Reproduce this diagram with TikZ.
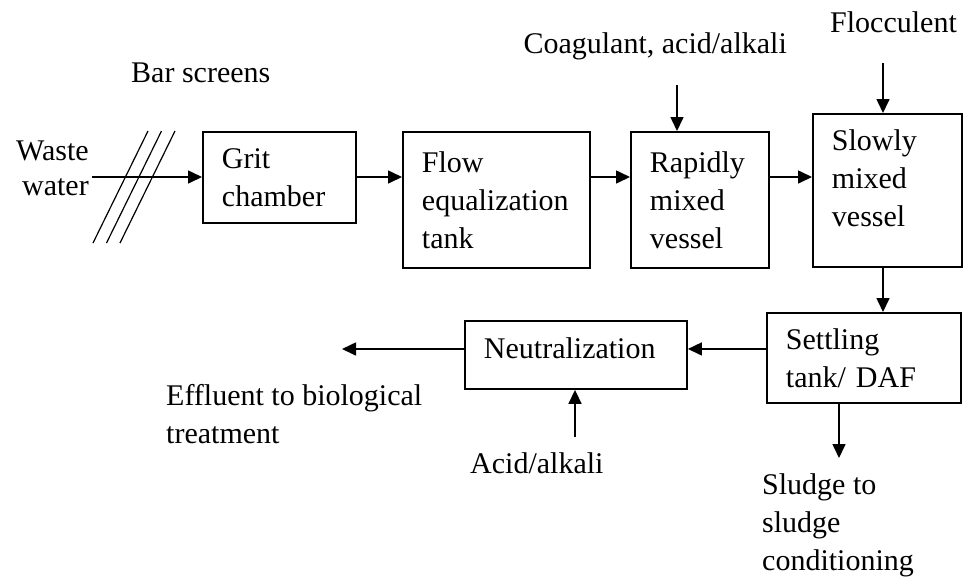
\documentclass[tikz,border=0pt]{standalone}
\usepackage{fontspec}
\setmainfont{Liberation Serif}
\usetikzlibrary{arrows.meta}

\tikzset{
  unit/.style={draw, line width=1.9pt, anchor=north west, align=left,
    inner xsep=19pt, inner ysep=0pt},
  note/.style={inner sep=0pt},
  feed/.style={->, line width=1.6pt},
}

\begin{document}
\begin{tikzpicture}[x=1pt, y=-1pt, >={Triangle[length=14pt, width=13pt]},
  font=\fontsize{30}{38}\selectfont]
  \useasboundingbox (0,0) rectangle (963,582);
  % process units
  \node (grit) at (202,131) [unit, text width=115pt, minimum height=91pt] {Grit\\chamber};
  \node (flow) at (402,131) [unit, text width=149pt, minimum height=136pt] {Flow\\equalization\\tank};
  \node (rapid) at (630,131) [unit, text width=100pt, minimum height=136pt] {Rapidly\\mixed\\vessel};
  \node (slow) at (812,113) [unit, text width=111pt, minimum height=153pt, text depth=100pt] {Slowly\\mixed\\vessel};
  \node (settle) at (766,312) [unit, text width=156pt, minimum height=90pt] {Settling\\tank/ DAF};
  \node (neut) at (464,320) [unit, text width=184pt, minimum height=68pt, text depth=14pt] {Neutralization};
  % streams
  \node (waste) at (89,195) [note, anchor=base east, align=right, font=\fontsize{30}{35}\selectfont] {Waste\\water};
  \node (bar) at (131,82) [note, anchor=base west] {Bar screens};
  \node (coag) at (787,53) [note, anchor=base east] {Coagulant, acid/alkali};
  \node (floc) at (830,32) [note, anchor=base west] {Flocculent};
  \node (acid) at (470,473) [note, anchor=base west] {Acid/alkali};
  \node (effl) at (166,443) [note, anchor=base west, align=left] {Effluent to biological\\treatment};
  \node (sludge) at (762,570) [note, anchor=base west, align=left] {Sludge to\\sludge\\conditioning};
  \coordinate (win) at (92,177);
  \coordinate (coagin) at (677,85);
  \coordinate (flocin) at (883,63);
  \coordinate (acidin) at (575,437);
  \coordinate (eff) at (342,349);
  \coordinate (sludgeout) at (839,458);
  \foreach \dx in {0,13.5,27}
    \draw [line width=1.2pt] (93+\dx,243) -- (148+\dx,131);
  \draw [feed] (win) -- (win -| grit.west);
  \draw [feed] (win -| grit.east) -- (win -| flow.west);
  \draw [feed] (win -| flow.east) -- (win -| rapid.west);
  \draw [feed] (win -| rapid.east) -- (win -| slow.west);
  \draw [feed] (coagin) -- (coagin |- rapid.north);
  \draw [feed] (flocin) -- (flocin |- slow.north);
  \draw [feed] (flocin |- slow.south) -- (flocin |- settle.north);
  \draw [feed] ([yshift=9pt]settle.west) -- ([yshift=9pt]settle.west -| neut.east);
  \draw [feed] (eff -| neut.west) -- (eff);
  \draw [feed] (acidin) -- (acidin |- neut.south);
  \draw [feed] (sludgeout |- settle.south) -- (sludgeout);
\end{tikzpicture}
\end{document}
